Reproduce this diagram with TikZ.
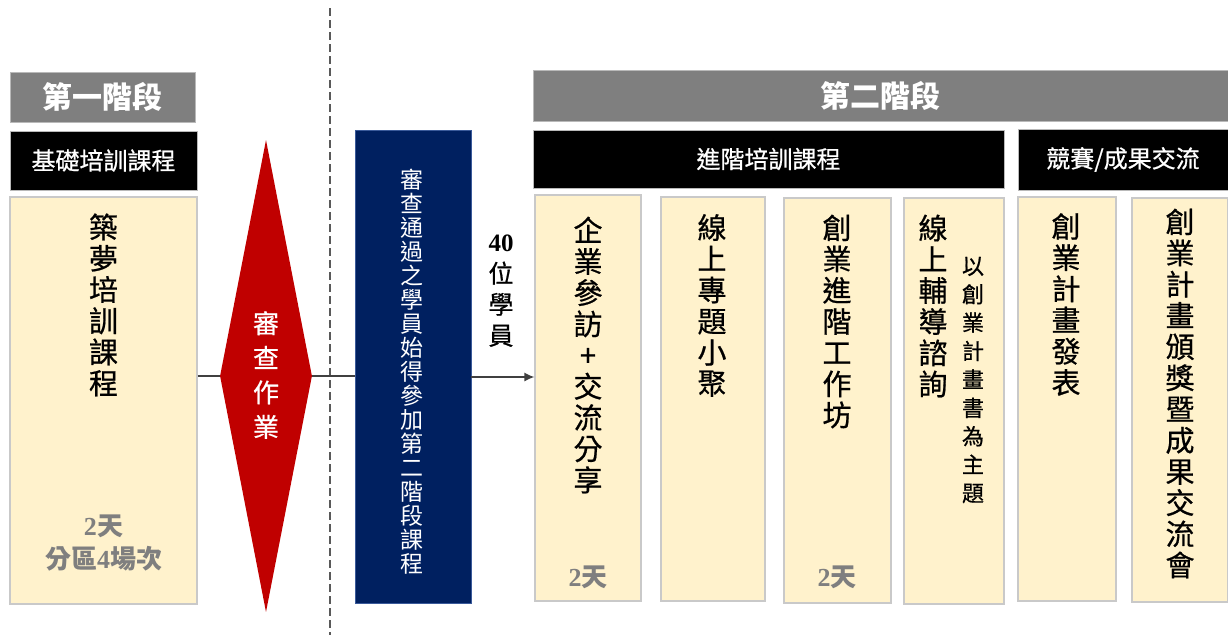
\documentclass[tikz,border=0pt]{standalone}
\usepackage{fontspec}
\setmainfont{Noto Sans CJK TC}
\newfontfamily\medcjk[FakeBold=0.7]{Noto Sans CJK TC}
\newfontfamily\numfont{Liberation Serif}
\usetikzlibrary{shapes.geometric,arrows.meta}
\definecolor{cream}{HTML}{FFF2CC}
\definecolor{creamline}{HTML}{C9C9C9}
\definecolor{stagegray}{HTML}{7F7F7F}
\definecolor{navyblue}{HTML}{002060}
\definecolor{navyline}{HTML}{3A5A9A}
\definecolor{darkred}{HTML}{C00000}
\definecolor{txtgray}{HTML}{7F7F7F}
\definecolor{linegray}{HTML}{404040}
\begin{document}
\begin{tikzpicture}[x=1pt,y=-1pt,
  stagebox/.style={fill=stagegray, draw=gray!55, line width=0.8pt, text=white,
    font=\bfseries\fontsize{30}{32}\selectfont, inner sep=0pt},
  headbox/.style={fill=black, draw=gray!55, line width=0.8pt, text=white,
    font=\medcjk\fontsize{24}{26}\selectfont, inner sep=0pt},
  creambox/.style={fill=cream, draw=creamline, line width=1.2pt, inner sep=0pt},
  vlabel/.style={align=center, inner sep=0pt, font=\medcjk\fontsize{29}{31.2}\selectfont},
  smalllabel/.style={align=center, inner sep=0pt, font=\medcjk\fontsize{22}{28.4}\selectfont},
  navylabel/.style={align=center, inner sep=0pt, text=white, font=\fontsize{23}{24}\selectfont},
  daylabel/.style={align=center, inner sep=0pt, text=txtgray, font=\bfseries\fontsize{26}{33}\selectfont},
  connector/.style={draw=linegray, line width=1.3pt},
  divider/.style={draw=black!65, line width=1.2pt, dash pattern=on 8pt off 4pt}
]
\useasboundingbox[fill=white] (0,0) rectangle (1228,635);

% divider
\coordinate (dtop) at (330,8);
\coordinate (dbot) at (330,635);
\draw[divider] (dtop) -- (dbot);

% stage 1
\node[stagebox, minimum width=185pt, minimum height=50pt] (s1) at (102.5,97) {第一階段};
\node[headbox, minimum width=187pt, minimum height=59pt] (h1) at (103.5,160.5) {基礎培訓課程};
\node[creambox, minimum width=187pt, minimum height=407pt] (c0) at (103.5,400.5) {};
\node[vlabel] (t0) at (103.5,305) {築\\夢\\培\\訓\\課\\程};
\node[daylabel] (d0) at (103.5,543) {{\numfont 2}天\\分區{\numfont 4}場次};

% review diamond
\node[diamond, fill=darkred, draw=none, inner sep=0pt, minimum width=92pt, minimum height=472pt] (dia) at (266,376) {};
\node[align=center, inner sep=0pt, text=white, font=\medcjk\fontsize{26}{34.5}\selectfont] (tdia) at (266,375) {審\\查\\作\\業};

% navy box
\node[fill=navyblue, draw=navyline, line width=0.8pt, inner sep=0pt, minimum width=116pt, minimum height=473pt] (navy) at (413,366.5) {};
\node[navylabel] (tnavy) at (412,371.5) {審\\查\\通\\過\\之\\學\\員\\始\\得\\參\\加\\第\\二\\階\\段\\課\\程};

% stage 2
\node[stagebox, minimum width=695pt, minimum height=51pt] (s2) at (880.5,95.5) {第二階段};
\node[headbox, minimum width=471pt, minimum height=58pt] (h2) at (768.5,159) {進階培訓課程};
\node[headbox, minimum width=210pt, minimum height=61pt] (h3) at (1123,159.5) {競賽/成果交流};

\node[creambox, minimum width=106pt, minimum height=406pt] (c1) at (588,398) {};
\node[creambox, minimum width=104pt, minimum height=404pt] (c2) at (713,399) {};
\node[creambox, minimum width=107pt, minimum height=405pt] (c3) at (837.5,400.5) {};
\node[creambox, minimum width=100pt, minimum height=406pt] (c4) at (954,401) {};
\node[creambox, minimum width=98pt, minimum height=404pt] (c5) at (1067,399) {};
\node[creambox, minimum width=96pt, minimum height=404pt] (c6) at (1180,400) {};

\node[vlabel] (t1) at (588,355) {企\\業\\參\\訪\\+\\交\\流\\分\\享};
\node[daylabel] (d1) at (588,577) {{\numfont 2}天};
\node[vlabel] (t2) at (712,305.5) {線\\上\\專\\題\\小\\聚};
\node[vlabel] (t3) at (837,321.5) {創\\業\\進\\階\\工\\作\\坊};
\node[daylabel] (d3) at (837,577) {{\numfont 2}天};
\node[vlabel] (t4) at (933,306) {線\\上\\輔\\導\\諮\\詢};
\node[smalllabel] (t4b) at (973,380) {以\\創\\業\\計\\畫\\書\\為\\主\\題};
\node[vlabel] (t5) at (1066,304.5) {創\\業\\計\\畫\\發\\表};
\node[vlabel] (t6) at (1180,393.5) {創\\業\\計\\畫\\頒\\獎\\暨\\成\\果\\交\\流\\會};

% connectors
\draw[connector] (c0.east |- dia.west) -- (dia.west);
\draw[connector] (dia.east) -- (navy.west |- dia.east);
\draw[connector, -{Latex[length=10pt,width=9pt]}] (navy.east |- 0,377) -- (c1.west |- 0,377);
\node[align=center, inner sep=0pt, font=\medcjk\fontsize{25}{31}\selectfont] (n40) at (501,291) {{\numfont\bfseries 40}\\位\\學\\員};
\end{tikzpicture}
\end{document}
